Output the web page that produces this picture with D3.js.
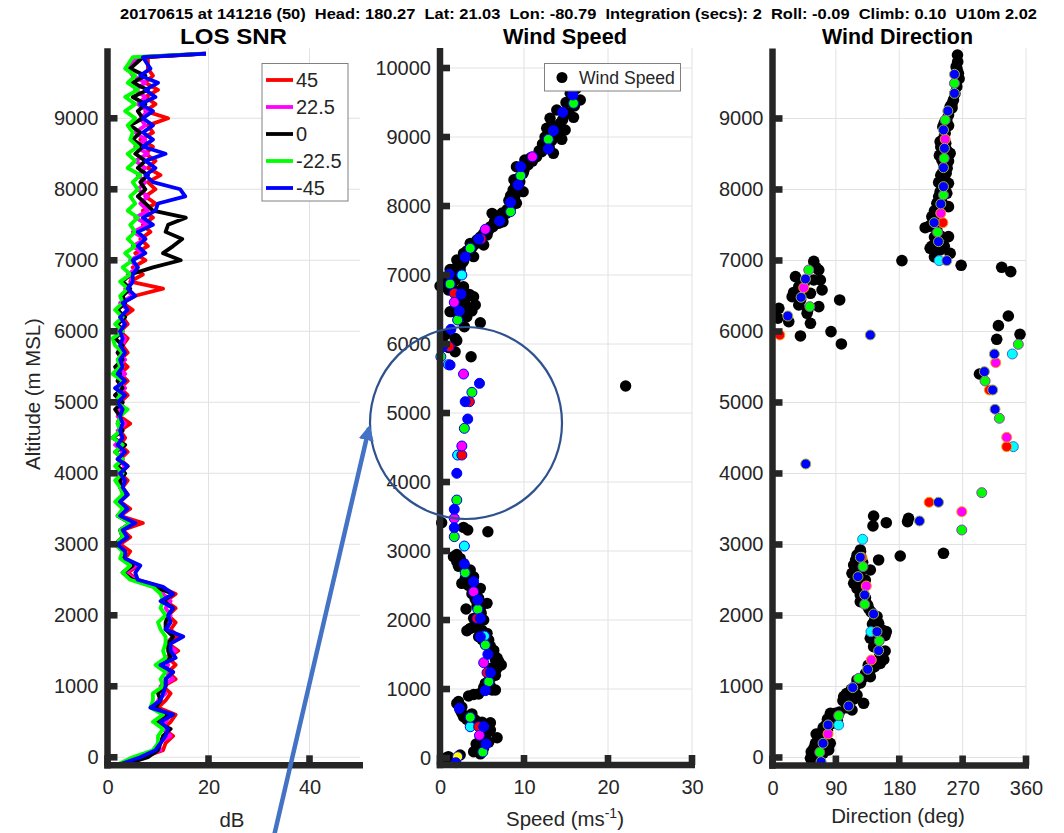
<!DOCTYPE html>
<html>
<head>
<meta charset="utf-8">
<script src="https://cdn.jsdelivr.net/npm/d3@7"></script>
<style>
  body { margin: 0; background: #fff; }
  svg { display: block; }
  text { font-family: "Liberation Sans", Arial, Helvetica, sans-serif; fill: #262626; }
  .narrow { font-family: "Liberation Sans Narrow", "Arial Narrow", "Liberation Sans", Arial, sans-serif; font-weight: bold; fill: #000; }
</style>
</head>
<body>
<svg id="fig" width="1064" height="833"></svg>
<script>
// ---------------- data ----------------
const headerText = "20170615 at 141216 (50)  Head: 180.27  Lat: 21.03  Lon: -80.79  Integration (secs): 2  Roll: -0.09  Climb: 0.10  U10m 2.02";
const panelTitles = ["LOS SNR", "Wind Speed", "Wind Direction"];

// LOS SNR profiles (dB) per beam angle, sampled at snrAlt (m MSL)
const snrAlt = [-100,0,100,200,300,400,500,600,700,800,900,1000,1100,1200,1300,1400,1500,1600,1700,1800,
  1900,2000,2100,2200,2300,2400,2500,2600,2700,2800,2900,3000,3100,3200,3300,3400,3500,3600,3700,3800,
  3900,4000,4100,4200,4300,4400,4500,4600,4700,4800,4900,5000,5100,5200,5300,5400,5500,5600,5700,5800,
  5900,6000,6100,6200,6300,6400,6500,6600,6700,6800,6900,7000,7100,7200,7300,7400,7500,7600,7700,7800,
  7900,8000,8100,8200,8300,8400,8500,8600,8700,8800,8900,9000,9100,9200,9300,9400,9500,9600,9700,9860,9910];
const snr45 = [3,7,11,11.5,13,11,12.5,13.5,10,11.5, 12.5,11,13.5,12,13.5,12,14,12,14,12.5,
  13.5,12,13.5,11.5,13.5,10.5,6,4,6,3.5, 4.5,2.5,4.5,3,7,2.5,4.5,2.5,4,3,
  4,2.5,4,2.5,4,2.5,3.5,2.5,4.5,2.5, 3.5,2.5,4,2.5,4,2.5,4,2.5,4,3,
  4,2.5,4,3,5,3,5.5,11,4.5,7, 5,7.5,5.5,8,6.5,8.5,7,9,7,9.5,
  7.5,9.5,8,10.5,8,9.5,7.5,9,6.5,9, 8,12,7.5,9.5,7.5,10,7.5,9,8,8, 19.5];
const snr22 = [2.5,6,10.5,10,12.5,11,11.5,12.5,9,10, 11.5,10.5,13,11.5,12,11.5,13.5,11.5,13,12,
  12,12.5,11.5,12.5,11,10,5.5,3.5,5.5,3, 3.5,2,3.5,2.5,5.5,2.5,4,2,3.5,2.5,
  3,2,3.5,2,3,1.5,3,2,3.5,2, 2.5,3,1.5,3.5,2,3.5,2,3.5,2,3,
  3.5,2,3.5,2.5,4,2.5,5,3.5,5,4, 6,4.5,7,5,7.5,5,8,5.5,8,6.5,
  8,6,7.5,6,7.5,5.5,8,5.5,7.5,5.5, 7.5,6.5,8,6,7.5,5.5,7.5,5,4,6, 19];
const snr0 = [3.5,8,10,10.5,11,12.5,9.5,12,9.5,10.5, 10,11.5,11.5,13,10.5,12.5,12,12,13,11.5,
  11.5,12,13,11,13,9.5,5,3,5,3, 3.5,1.5,3,2.5,4.5,2,3.5,2,3.5,2.5,
  2.5,3.5,2,3,1.5,3.5,1,3,2,2.5, 1.5,3,1.5,3,2,2.5,1.5,3,2,3,
  1.5,3,2,3.5,2,3.5,3,4.5,3,4.5, 9,14.5,11,13,14.8,11.5,12,15.5,9,7.5,
  6,7.5,6.5,8,6,7.5,5.5,7,5,6.5, 4.5,7,6,7.5,5,8,5,7.5,4.5,7, 19.5];
const snrM22 = [2,5,9,10,10,11,9,11,8.5,9, 9,11,10.5,11.5,9.5,11.5,11,11.5,11.5,10.5,
  10,11.5,10.5,11,10.5,9,4.5,3,4.5,2.5, 3,1.5,3,2.5,4.5,2,3,1.5,3,2.5,
  1.5,3,1.5,3,1.5,3,1,2.5,2,2.5, 4,1.5,2.5,2,3,1,2.5,2,3,1.5,
  1,3,1.5,3,1.5,3,2.5,4,2.5,4.5, 3,5,3.5,5.5,4,5.5,4.5,6,4,5.5,
  4.5,6,5,6.5,4,5.5,4,6,4.5,5, 4,5.5,3.5,5.5,3.5,6,4,5.5,3.5,5, 19];
const snrM45 = [2.5,6.5,9.5,10.5,11.5,12,10.5,13,8.5,10.5, 11,11.5,11.5,13,10.5,13.5,12.5,12.5,15,11.5,
  12.5,12,13,10.5,13,11,6,5.5,6.5,3.5, 3.5,2,4,3,5.5,2.5,4,2.5,4,3,
  3.5,2.5,4,2,3.5,2,3,2.5,3,2.5, 3,2,3.5,1.5,3.5,2,3,2.5,3.5,2.5,
  3,2.5,3.5,2.5,4,3,5.5,4,5,5, 6,5,7.5,6,7.5,6,9,7,9.5,10,
  15.4,14.4,9,7.5,9.5,7.5,11.5,7,9,7, 9,7,9,6.5,9.5,7.5,10,6.5,8.5,7, 19.5];
const beamLabels = ["45", "22.5", "0", "-22.5", "-45"];
const beamColors = ["#ff0000", "#ff00ff", "#000000", "#00ff00", "#0000ff"];

// Wind speed [speed m/s, altitude m]
const speedBlack = [
  [1.6,2918],[2.4,2894],[2.0,2845],[2.6,2531],[3.6,2725],[4.0,2628],[4.4,2435],[4.8,2459],[4.6,2314],[5.6,2242],
  [3.1,2159],[4.0,2024],[3.6,1879],[3.2,1845],[4.2,1894],[4.6,1758],[5.6,1807],[5.8,1710],[6.2,1565],[6.4,1493],
  [6.6,1420],[7.3,1348],[6.4,1251],[6.2,1179],[5.4,1082],[6.2,986],[6.6,986],[4.6,928],[3.4,899],[2.0,792],
  [2.4,696],[2.8,599],[4.2,551],[6.0,512],[6.0,406],[6.8,295],[4.8,261],[4.3,203],[4.0,92],[2.4,43],[0.6,-4],
  [2.2,2780],[3.0,2600],[3.4,2500],[3.8,2380],[4.4,2200],[4.9,2100],[4.5,1950],[5.0,1850],[5.4,1650],[6.0,1620],
  [6.8,1450],[6.0,1300],[5.8,1120],[5.2,1020],[2.2,820],[2.6,650],[3.8,640],[4.6,480],[5.5,470],[5.6,360],[5.2,150],[4.6,140],
  [2.0,2950],[2.8,2820],[3.2,2680],[3.8,2560],[4.2,2300],[4.8,2180],[5.2,2000],[5.0,1720],[6.4,1560],[7.0,1400],
  [6.8,1300],[6.6,1200],[6.0,1040],[4.0,920],[2.6,740],[3.2,560],[5.0,520],[5.8,440],[5.0,330],[5.8,230],[4.8,60],[1.0,20],
  [0.2,3411],[2.8,3343],[3.3,3304],[5.7,3280],[3.7,5816],[1.8,5889],[1.8,6082],[0.6,6130],[2.9,6251],[4.8,6309],
  [3.2,6396],[2.4,6444],[1.2,6469],[3.4,6517],[4.2,6565],[2.8,6614],[0.4,6000],[1.0,5950],[2.0,6050],
  [15.5,9633],[16.7,9536],[15.9,9285],[13.9,9391],[13.1,9271],[12.7,9126],[14.3,9198],[14.9,9101],[14.5,8966],[13.5,8763],
  [12.1,8787],[11.5,8715],[10.1,8667],[9.1,8570],[9.9,8474],[8.7,8232],[8.9,8135],[9.9,8208],[9.1,8039],[7.9,7894],
  [7.5,7773],[6.2,7894],[6.3,7700],[5.6,7580],[5.2,7435],[4.4,7507],[3.6,7459],[2.8,7314],[4.0,7266],[2.0,7217],
  [2.4,7072],[1.8,6928],[0.0,6841],[0.6,6928],[1.0,6783],[2.8,6831],[4.0,6686],[1.4,6469],[3.2,6541],
  [15.0,9500],[16.2,9700],[14.0,9050],[13.0,8850],[12.5,9000],[11.0,8650],[10.5,8600],[9.5,8350],[9.0,8300],[8.5,8000],
  [8.0,7950],[7.0,7750],[6.8,7850],[5.8,7650],[4.8,7550],[3.8,7400],[3.2,7350],[2.5,7150],[1.5,7000],[0.8,6950],
  [2.2,6700],[3.0,6650],[2.0,6600],[3.8,6480],
  [16.0,9450],[15.3,9350],[14.6,9250],[13.6,9150],[13.3,8950],[12.2,8900],[11.8,8800],[10.8,8700],[10.0,8520],[9.3,8400],
  [8.8,8380],[8.4,8150],[8.2,8080],[7.4,7900],[7.2,7820],[6.5,7780],[6.0,7700],[5.2,7600],[4.2,7450],[3.4,7300],
  [2.8,7200],[1.9,7100],[1.2,7080],[0.5,6900],[1.4,6850],[2.5,6780],[3.5,6720],
  [22.1,5391]];
const speedYellow = [[2.1,19]];
const speedCyan = [[2.6,7000],[1.0,5700],[2.1,4391],[2.9,3072],[5.3,1768],[3.6,454]];
const speedRed = [[4.9,7522],[1.7,6735],[1.1,5961],[3.5,5164],[2.6,4391],[4.4,2025],[5.6,1237],[4.6,454]];
const speedMagenta = [[11.0,8715],[5.4,7662],[1.7,6604],[2.8,5565],[2.6,4522],[1.7,3474],[4.0,2410],[5.2,1382],[4.7,329]];
const speedGreen = [[15.9,9488],[12.9,8966],[9.6,8439],[8.4,7918],[3.6,7387],[1.2,6870],[2.1,6348],[0.1,5816],[3.8,5300],
  [2.9,4778],[2.0,3739],[1.7,3208],[3.0,2686],[4.5,2155],[5.4,1638],[5.8,1106],[3.6,590],[5.1,87]];
const speedBlue = [[15.8,9609],[14.6,9358],[13.5,9092],[12.9,8826],[9.6,8570],[9.3,8304],[8.4,8053],[7.1,7783],[4.6,7522],
  [3.0,7261],[1.1,7010],[2.5,6725],[2.3,6478],[1.3,6213],[0.3,5961],[1.2,5696],[4.7,5430],[3.0,5164],[3.3,4913],
  [2.0,4126],[1.7,3604],[1.7,3338],[2.9,2812],[4.0,2555],[4.5,2290],[4.8,2025],[4.8,1758],[5.7,1503],[6.0,1237],
  [5.4,976],[2.3,720],[5.2,454],[5.5,203],[1.9,-68]];

// Wind direction [deg, altitude m]
const dirBlack = [
  [262.7,9894],[260.8,9730],[264,9636],[261.7,9448],[257,9261],[252.3,9167],[247.5,8979],[241.9,8885],[245.2,8791],[238.1,8674],
  [247.5,8556],[240.5,8415],[252.3,8509],[246.6,8228],[240.5,8134],[249.9,8087],[238.1,7969],[247.5,7946],[233.4,7805],[249.9,7758],
  [226.3,7617],[216.8,7462],[233.4,7430],[249.9,7336],[223.9,7171],[238.1,7148],[252.3,7101],
  [263,9800],[265,9560],[259,9350],[255,9210],[250,9050],[244,8940],[243,8720],[239,8600],[245,8450],[243,8350],
  [248,8300],[239,8200],[244,8050],[236,7900],[240,7850],[230,7700],[235,7650],[228,7550],[222,7480],[230,7330],
  [236,7250],[244,7200],[230,7050],[262,9700],[260,9500],
  [255,9150],[250,8900],[246,8650],[237,8480],[250,8400],[242,8250],[236,8100],[245,7980],[232,7600],[238,7350],[226,7200],
  [183.8,6998],[267.9,6932],[325.5,6904],[338.3,6843],
  [58.6,6987],[65.7,6866],[32.6,6772],[58.6,6725],[68,6725],[37.3,6631],[70.4,6585],[27.9,6490],[53.9,6538],[37.3,6373],
  [65.7,6350],[49.1,6256],[9,6326],[7.6,6186],[23.1,6139],[53.9,6115],[95.4,6444],[83.1,5998],[39.7,5937],[97.8,5824],
  [45,6680],[40,6450],[50,6300],[62,6900],[30,6550],
  [334.9,6218],[320.8,6082],[318.4,5890],[351.5,5960],[293.9,5401],
  [143.6,3401],[142.7,3261],[161.6,3307],[193.2,3369],[191.8,3322],[124.7,2923],[181.4,2838],[242.8,2876],[150.7,2782],[115.3,2711],
  [112.9,2594],[138.9,2641],[115.3,2453],[131.8,2500],[124.7,2289],[124.7,2195],[136.5,2101],[148.4,1984],[150.7,1890],[161.6,1772],
  [138.9,1679],[143.6,1561],[155.5,1420],[153.1,1326],[138.9,1232],[138.9,1138],[120,1092],[101.1,857],[120,880],[129.4,763],
  [112.9,669],[82.2,622],[89.3,622],[84.6,481],[68,340],[75.1,246],[79.8,106],[58.6,129],[53.9,-12],[61,200],[63.3,59],
  [120,2850],[128,2750],[118,2650],[122,2550],[128,2400],[126,2340],[132,2250],[140,2050],[145,1930],[155,1800],
  [150,1700],[148,1620],[152,1480],[158,1380],[145,1280],[132,1180],[125,1050],[112,960],[105,900],[115,820],
  [105,700],[95,640],[78,540],[72,420],[78,380],[70,280],[65,180],[72,60],[57,30],
  [125,2900],[118,2780],[125,2620],[128,2480],[120,2380],[135,2150],[142,1880],[160,1720],[145,1600],[160,1500],
  [148,1350],[136,1300],[128,1120],[118,1010],[100,800],[108,750],[85,580],[92,520],[76,460],[62,330],
  [70,150],[55,80],[60,-40],[82,200]];
const dirCyan = [[236.7,6998],[340.6,5683],[342,4378],[128,3073],[139.8,1772],[94,458]];
const dirRed = [[241.9,7533],[10.4,5951],[308,5176],[332.6,4378],[222.5,3594],[127,2819]];
const dirMagenta = [[245.2,8707],[239,7665],[44.4,6617],[317,5561],[332.6,4509],[268.8,3462],[133.2,2415],[140.3,1373],[78.9,331]];
const dirGreen = [[258.4,9495],[245.2,8979],[243.8,8439],[242.8,7923],[234.3,7397],[51.5,6866],[52.9,6350],[349.1,5819],[301.9,5303],
  [322.2,4777],[297.2,3730],[268.8,3204],[128.5,2688],[130.9,2157],[151.6,1641],[122.4,1115],[94,589],[67.1,73]];
const dirBlue = [[258.4,9622],[258.4,9354],[249,9106],[242.8,8838],[244.2,8580],[242.8,8307],[242.8,8040],[239,7796],[229.6,7533],
  [235.7,7265],[247.5,6998],[46.8,6739],[40.6,6481],[21.7,6218],[138.9,5951],[315.1,5683],[300.9,5434],[312.7,5176],[316,4904],
  [47.2,4134],[235.7,3594],[208.8,3331],[124.7,2819],[121.4,2547],[130.9,2289],[143.6,2021],[148.4,1772],[150.7,1505],[135.1,1242],
  [113.9,984],[108.2,725],[78.9,458],[71.8,200],[69,-59]];

// Tick values
const altTicksLeft = [0,1000,2000,3000,4000,5000,6000,7000,8000,9000];
const altTicksMid = [0,1000,2000,3000,4000,5000,6000,7000,8000,9000,10000];
const snrTicks = [0,20,40];
const speedTicks = [0,10,20,30];
const dirTicks = [0,90,180,270,360];

// ---------------- drawing ----------------
const svg = d3.select("#fig");
const AX = "#262626", GRID = "#e2e2e2", AXW = 6.5;

// Shared panel builder: grid, thick axes, inward ticks, labels
function panel(x, y, xTicks, yTicks) {
  const g = svg.append("g");
  const [x0, x1] = x.range();
  const [yb, yt] = y.range();
  const grid = g.append("g");
  grid.selectAll("line.h").data(yTicks).join("line")
    .attr("x1", x0).attr("x2", x1).attr("y1", d => y(d)).attr("y2", d => y(d))
    .attr("stroke", GRID).attr("stroke-width", 1);
  grid.selectAll("line.v").data(xTicks.filter(d => d !== xTicks[0])).join("line")
    .attr("y1", yt).attr("y2", yb).attr("x1", d => x(d)).attr("x2", d => x(d))
    .attr("stroke", GRID).attr("stroke-width", 1);
  const plot = g.append("g");
  const axes = g.append("g");
  axes.append("line").attr("x1", x0).attr("x2", x0).attr("y1", yt).attr("y2", yb + AXW / 2)
    .attr("stroke", AX).attr("stroke-width", AXW);
  axes.append("line").attr("x1", x0 - AXW / 2).attr("x2", x1 + 3).attr("y1", yb).attr("y2", yb)
    .attr("stroke", AX).attr("stroke-width", AXW);
  axes.selectAll("rect.yt").data(yTicks).join("rect")
    .attr("x", x0).attr("y", d => y(d) - 3.3).attr("width", 10).attr("height", 6.6).attr("fill", AX);
  axes.selectAll("rect.xt").data(xTicks).join("rect")
    .attr("x", d => x(d) - 3.3).attr("y", yb - 10).attr("width", 6.6).attr("height", 10).attr("fill", AX);
  // tick labels via d3 axes (lines hidden, only text kept)
  const ya = axes.append("g").attr("transform", `translate(${x0 - 2},0)`)
    .call(d3.axisLeft(y).tickValues(yTicks).tickSize(0).tickPadding(7).tickFormat(d3.format("d")));
  const xa = axes.append("g").attr("transform", `translate(0,${yb + 6})`)
    .call(d3.axisBottom(x).tickValues(xTicks).tickSize(0).tickPadding(9).tickFormat(d3.format("d")));
  [ya, xa].forEach(a => {
    a.select(".domain").remove();
    a.selectAll("text").attr("font-size", 20).attr("fill", AX)
      .style("font-family", '"Liberation Sans", Arial, sans-serif');
  });
  return plot;
}

// ---- LOS SNR ----
const xSnr = d3.scaleLinear().domain([0, 50]).range([107.5, 360]);
const ySnr = d3.scaleLinear().domain([-113, 9987]).range([765.3, 48.2]);
const pSnr = panel(xSnr, ySnr, snrTicks, altTicksLeft);
const snrSeries = [snr45, snr22, snr0, snrM22, snrM45];
const snrLine = d3.line().x(d => xSnr(d[0])).y(d => ySnr(d[1]));
snrSeries.forEach((s, i) => {
  pSnr.append("path").attr("d", snrLine(s.map((v, k) => [v, snrAlt[k]])))
    .attr("fill", "none").attr("stroke", beamColors[i]).attr("stroke-width", 3.8)
    .attr("stroke-linejoin", "round");
});
// legend
const lg = svg.append("g");
lg.append("rect").attr("x", 262).attr("y", 63.5).attr("width", 86).attr("height", 137.5)
  .attr("fill", "#fff").attr("stroke", "#808080").attr("stroke-width", 1);
beamLabels.forEach((lab, i) => {
  const cy = 80 + i * 27;
  lg.append("line").attr("x1", 266).attr("x2", 293).attr("y1", cy).attr("y2", cy)
    .attr("stroke", beamColors[i]).attr("stroke-width", 3.8);
  lg.append("text").attr("x", 296).attr("y", cy).attr("dy", "0.35em").attr("font-size", 20)
    .attr("fill", "#000").text(lab);
});

// ---- Wind Speed ----
const xSpd = d3.scaleLinear().domain([0, 30]).range([440, 692]);
const ySpd = d3.scaleLinear().domain([-101, 10290]).range([765, 48]);
const pSpd = panel(xSpd, ySpd, speedTicks, altTicksMid);
function dots(p, x, y, data, fill, stroke, r, sw) {
  p.append("g").selectAll("circle").data(data).join("circle")
    .attr("cx", d => x(d[0])).attr("cy", d => y(d[1])).attr("r", r)
    .attr("fill", fill).attr("stroke", stroke).attr("stroke-width", sw);
}
dots(pSpd, xSpd, ySpd, speedBlack, "#000", "none", 5.7, 0);
dots(pSpd, xSpd, ySpd, speedYellow, "#ffff00", "#0000ff", 5, 1);
dots(pSpd, xSpd, ySpd, speedCyan, "#00ffff", "#0000ff", 5, 1);
dots(pSpd, xSpd, ySpd, speedRed, "#ff0000", "#0000ff", 5, 1);
dots(pSpd, xSpd, ySpd, speedMagenta, "#ff00ff", "#0000ff", 5, 1);
dots(pSpd, xSpd, ySpd, speedGreen, "#00ff00", "#0000ff", 5, 1);
dots(pSpd, xSpd, ySpd, speedBlue, "#0000ff", "#0000ff", 5, 1);
const lg2 = svg.append("g");
lg2.append("rect").attr("x", 544.5).attr("y", 63.5).attr("width", 136).attr("height", 27.5)
  .attr("fill", "#fff").attr("stroke", "#808080").attr("stroke-width", 1);
lg2.append("circle").attr("cx", 562).attr("cy", 77.5).attr("r", 5.5).attr("fill", "#000");
lg2.append("text").attr("x", 579).attr("y", 77.5).attr("dy", "0.35em").attr("font-size", 17.6)
  .attr("fill", "#000").text("Wind Speed");

// ---- Wind Direction ----
const xDir = d3.scaleLinear().domain([0, 360]).range([772.5, 1026]);
const yDir = d3.scaleLinear().domain([-113, 9987]).range([765.5, 48.4]);
const pDir = panel(xDir, yDir, dirTicks, altTicksLeft);
dots(pDir, xDir, yDir, dirBlack, "#000", "none", 5.8, 0);
dots(pDir, xDir, yDir, dirCyan, "#00ffff", "#3a6ad0", 5, 1);
dots(pDir, xDir, yDir, dirRed, "#ff0000", "#ff9900", 5, 1);
dots(pDir, xDir, yDir, dirMagenta, "#ff00ff", "#ff9900", 5, 1);
dots(pDir, xDir, yDir, dirGreen, "#00ff00", "#9040b0", 5, 1);
dots(pDir, xDir, yDir, dirBlue, "#0000ff", "#9ab040", 5, 1);

// ---- titles and axis labels ----
svg.append("text").attr("class", "narrow").attr("x", 578.5).attr("y", 19).attr("text-anchor", "middle")
  .attr("font-size", 14).style("white-space", "pre").attr("textLength", 917).attr("lengthAdjust", "spacingAndGlyphs")
  .text(headerText);
const titleX = [233.5, 565, 897.5], titleW = [107, 124, 151];
panelTitles.forEach((t, i) => {
  svg.append("text").attr("class", "narrow").attr("x", titleX[i]).attr("y", 43.5).attr("text-anchor", "middle")
    .attr("font-size", 22).attr("textLength", titleW[i]).attr("lengthAdjust", "spacingAndGlyphs").text(t);
});
svg.append("text").attr("transform", "translate(40,394) rotate(-90)").attr("text-anchor", "middle")
  .attr("font-size", 20.4).attr("fill", AX).text("Altitude (m MSL)");
svg.append("text").attr("x", 232).attr("y", 827).attr("text-anchor", "middle").attr("font-size", 20.4)
  .attr("fill", AX).text("dB");
const spLab = svg.append("text").attr("x", 565).attr("y", 826).attr("text-anchor", "middle")
  .attr("font-size", 20.4).attr("fill", AX);
spLab.append("tspan").text("Speed (ms");
spLab.append("tspan").attr("dy", -8).attr("font-size", 14).text("-1");
spLab.append("tspan").attr("dy", 8).text(")");
svg.append("text").attr("x", 898).attr("y", 823).attr("text-anchor", "middle").attr("font-size", 20.4)
  .attr("fill", AX).text("Direction (deg)");

// ---- annotation: highlighted region and pointer ----
const ann = svg.append("g");
ann.append("circle").attr("cx", 466).attr("cy", 423).attr("r", 96)
  .attr("fill", "none").attr("stroke", "#2f528f").attr("stroke-width", 2.2);
svg.append("defs").append("marker").attr("id", "ah").attr("viewBox", "0 0 10 10")
  .attr("refX", 8).attr("refY", 5).attr("markerWidth", 3.4).attr("markerHeight", 3.4)
  .attr("orient", "auto").attr("markerUnits", "strokeWidth")
  .append("path").attr("d", "M0,0 L10,5 L0,10 z").attr("fill", "#4472c4");
ann.append("line").attr("x1", 274).attr("y1", 836).attr("x2", 369).attr("y2", 428)
  .attr("stroke", "#4472c4").attr("stroke-width", 4.5).attr("marker-end", "url(#ah)");
</script>
</body>
</html>
